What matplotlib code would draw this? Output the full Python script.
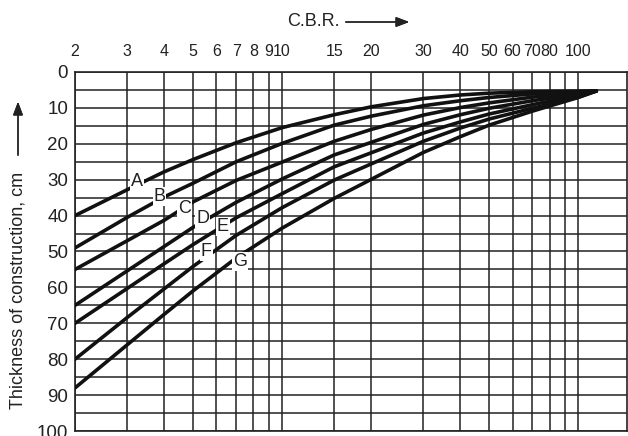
import matplotlib
matplotlib.use("Agg")
import matplotlib.pyplot as plt
from matplotlib.ticker import NullLocator

plt.rcParams['font.family'] = ['Liberation Sans', 'DejaVu Sans']

cbr = [2, 3, 4, 5, 7, 10, 15, 20, 30, 40, 50, 70, 100, 115]

# thickness of construction (cm) for each curve
curve_a = [40, 32.8, 27.8, 24.4, 19.7, 15.5, 11.9, 9.7, 7.4, 6.4, 5.9, 5.5, 5.35, 5.3]
curve_b = [49, 40.5, 34.8, 31.0, 25.0, 19.9, 14.8, 12.3, 9.4, 8.0, 7.1, 6.1, 5.5, 5.3]
curve_c = [55, 47.0, 41.3, 36.2, 30.2, 25.1, 19.3, 16.0, 12.0, 9.9, 8.6, 7.0, 5.8, 5.3]
curve_d = [65, 55.4, 48.6, 43.3, 36.3, 29.8, 23.1, 19.6, 14.6, 11.9, 10.1, 8.0, 6.1, 5.3]
curve_e = [70, 60.3, 53.4, 48.1, 40.6, 33.9, 26.4, 22.5, 17.0, 13.9, 11.7, 9.1, 6.5, 5.3]
curve_f = [80, 68.4, 60.4, 54.2, 45.5, 37.8, 30.1, 25.6, 19.3, 15.6, 13.1, 10.1, 7.0, 5.3]
curve_g = [88, 76.0, 67.5, 61.0, 51.8, 43.5, 35.2, 29.9, 22.4, 18.0, 14.8, 10.9, 7.1, 5.3]

curve_names = ["A", "B", "C", "D", "E", "F", "G"]
# where the letters sit on the curves (cbr, thickness)
label_x = [3.23, 3.86, 4.69, 5.40, 6.31, 5.55, 7.2]
label_y = [30.5, 34.7, 37.9, 40.7, 43.0, 50.0, 52.8]

grid_x = [2, 3, 4, 5, 6, 7, 8, 9, 10, 15, 20, 30, 40, 50, 60, 70, 80, 90, 100]
grid_x_labels = ["2", "3", "4", "5", "6", "7", "8", "9", "10", "15", "20",
                 "30", "40", "50", "60", "70", "80", "", "100"]
grid_y = list(range(0, 101, 5))
grid_y_labels = [str(v) if v % 10 == 0 else "" for v in grid_y]

fig = plt.figure(figsize=(6.28, 4.36), dpi=100)
ax = fig.add_axes([75 / 628, 1 - 431 / 436, 552 / 628, (431 - 72) / 436])

ax.set_xscale("log")
ax.set_xlim(2, 146)
ax.set_ylim(100, 0)

ax.set_xticks(grid_x)
ax.set_xticklabels(grid_x_labels)
ax.xaxis.set_minor_locator(NullLocator())
ax.xaxis.tick_top()
ax.set_yticks(grid_y)
ax.set_yticklabels(grid_y_labels)
ax.tick_params(axis="x", length=0, pad=9, labelsize=11.5, colors="#222222")
ax.tick_params(axis="y", length=0, pad=5, labelsize=13.5, colors="#222222")
ax.grid(True, color="#222222", linewidth=1.1)
for s in ax.spines.values():
    s.set_color("#222222")
    s.set_linewidth(1.2)

for ys in [curve_a, curve_b, curve_c, curve_d, curve_e, curve_f, curve_g]:
    ax.plot(cbr, ys, color="#111111", linewidth=2.6, solid_capstyle="round", zorder=3)

for name, lx, ly in zip(curve_names, label_x, label_y):
    ax.text(lx, ly, name, ha="center", va="center", fontsize=13, color="#222222",
            zorder=4, bbox=dict(facecolor="white", edgecolor="none", pad=0.6))

# axis titles with arrows
fig.text(340 / 628, 1 - 22 / 436, "C.B.R.", ha="right", va="center",
         fontsize=13, color="#222222")
fig.add_artist(plt.annotate("", xy=(412 / 628, 1 - 22 / 436), xytext=(343 / 628, 1 - 22 / 436),
                            xycoords="figure fraction",
                            arrowprops=dict(arrowstyle="-|>,head_length=0.8,head_width=0.3",
                                            color="#222222", lw=1.0)))
fig.text(18 / 628, 1 - 290 / 436, "Thickness of construction, cm", rotation=90,
         ha="center", va="center", fontsize=13, color="#222222")
fig.add_artist(plt.annotate("", xy=(18 / 628, 1 - 99 / 436), xytext=(18 / 628, 1 - 158 / 436),
                            xycoords="figure fraction",
                            arrowprops=dict(arrowstyle="-|>,head_length=0.8,head_width=0.3",
                                            color="#222222", lw=1.0)))

fig.savefig("out.png", dpi=100)
